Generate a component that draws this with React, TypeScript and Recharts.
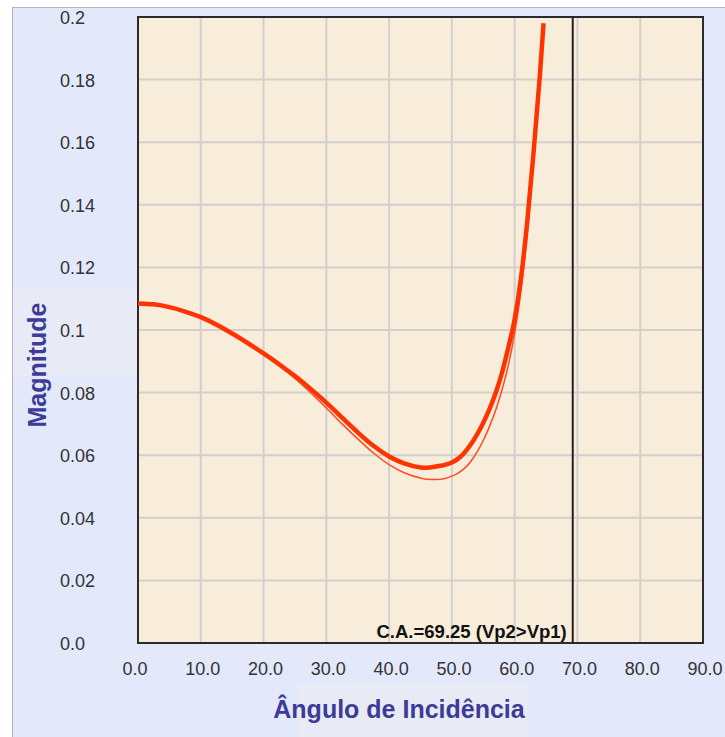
import React from 'react';
import {
  LineChart,
  Line,
  XAxis,
  YAxis,
  CartesianGrid,
  ReferenceLine,
  ReferenceArea,
} from 'recharts';

// angle of incidence (degrees)
const angles = [0, 2.5, 5, 7.5, 10, 15, 20, 22.5, 25, 27.5, 30, 32.5, 35, 37.5, 40, 42.5, 45, 46, 47.5, 50, 51, 52, 53, 54, 55, 56, 57, 58, 59, 60, 61, 62, 63, 64, 64.6];
// magnitude, thick curve
const magA = [0.1085, 0.1082, 0.1073, 0.1059, 0.1041, 0.0989, 0.0925, 0.089, 0.0853, 0.0812, 0.0768, 0.072, 0.0673, 0.063, 0.0596, 0.0573, 0.0561, 0.056, 0.0564, 0.0577, 0.0589, 0.0608, 0.0634, 0.0666, 0.0704, 0.0748, 0.08, 0.0865, 0.0945, 0.1035, 0.1165, 0.1345, 0.1565, 0.181, 0.198];
// magnitude, thin curve
const magB = [0.1085, 0.1082, 0.1073, 0.1059, 0.1041, 0.0989, 0.0923, 0.0886, 0.0845, 0.08, 0.0751, 0.07, 0.0652, 0.0607, 0.057, 0.0543, 0.0527, 0.0523, 0.0522, 0.0533, 0.0543, 0.0558, 0.058, 0.061, 0.0647, 0.0692, 0.0745, 0.081, 0.0888, 0.099, 0.1125, 0.131, 0.154, 0.1795, 0.197];

const xTicks = [0, 10, 20, 30, 40, 50, 60, 70, 80, 90];
const yTicks = [0, 0.02, 0.04, 0.06, 0.08, 0.1, 0.12, 0.14, 0.16, 0.18, 0.2];
const yTickLabels = ['0.0', '0.02', '0.04', '0.06', '0.08', '0.1', '0.12', '0.14', '0.16', '0.18', '0.2'];

const criticalAngle = 69.25;
const criticalLabel = 'C.A.=69.25 (Vp2>Vp1)';

const data = angles.map((a, i) => ({ angle: a, magA: magA[i], magB: magB[i] }));

const FONT = '"Liberation Sans", Arial, sans-serif';
const TITLE_COLOR = '#3b3b98';

const XTick = (props: any) => {
  const { x, y, payload } = props;
  return (
    <text x={x - 15.5} y={y + 32} textAnchor="start" fontSize={18} fill="#333" fontFamily={FONT}>
      {Number(payload.value).toFixed(1)}
    </text>
  );
};

const YTick = (props: any) => {
  const { y, payload } = props;
  const idx = yTicks.findIndex(t => Math.abs(t - payload.value) < 1e-9);
  return (
    <text x={60} y={y + 7} textAnchor="start" fontSize={18} fill="#333" fontFamily={FONT}>
      {idx >= 0 ? yTickLabels[idx] : payload.value}
    </text>
  );
};

const CALabel = (props: any) => {
  const vb = props.viewBox || { x: 573, y: 17, width: 0, height: 626 };
  return (
    <text
      x={vb.x - 6}
      y={vb.y + vb.height - 5}
      textAnchor="end"
      fontSize={18.5}
      fontWeight="bold"
      fill="#111"
      fontFamily={FONT}
    >
      {criticalLabel}
    </text>
  );
};

export default function App() {
  return (
    <div style={{ position: 'absolute', left: 0, top: 0, width: 725, height: 737, background: '#fff', overflow: 'hidden' }}>
      <div
        style={{
          position: 'absolute',
          left: 12,
          top: 7,
          right: 0,
          bottom: 0,
          background: '#e4e8fb',
          borderTop: '1px solid #b3b4bc',
          borderLeft: '1px solid #b3b4bc',
        }}
      />
      {/* faint bands behind the axis titles */}
      <div style={{ position: 'absolute', left: 13, top: 288, width: 125, height: 88, background: '#e8ebf5' }} />
      <div style={{ position: 'absolute', left: 298, top: 683, width: 230, height: 54, background: '#e8ebf5' }} />
      <div style={{ position: 'absolute', left: 0, top: 0 }}>
        <LineChart width={725} height={737} data={data} margin={{ top: 17, right: 22, left: 0, bottom: 0 }}>
          <CartesianGrid
            fill="#f8ecdb"
            stroke="#d2d0cc"
            strokeWidth={2}
            horizontalValues={yTicks}
            verticalValues={xTicks}
          />
          <XAxis
            dataKey="angle"
            type="number"
            domain={[0, 90]}
            ticks={xTicks}
            interval={0}
            tick={<XTick />}
            tickLine={false}
            tickSize={0}
            tickMargin={0}
            axisLine={false}
            height={94}
            allowDataOverflow
          />
          <YAxis
            type="number"
            domain={[0, 0.2]}
            ticks={yTicks}
            interval={0}
            tick={<YTick />}
            tickLine={false}
            tickSize={0}
            tickMargin={0}
            axisLine={false}
            width={138}
            allowDataOverflow
          />
          <Line
            type="monotone"
            dataKey="magB"
            stroke="#ff4a24"
            strokeWidth={1.5}
            dot={false}
            isAnimationActive={false}
          />
          <Line
            type="monotone"
            dataKey="magA"
            stroke="#ff3300"
            strokeWidth={4.5}
            dot={false}
            isAnimationActive={false}
          />
          <ReferenceLine x={criticalAngle} stroke="#222" strokeWidth={2} label={CALabel} />
          <ReferenceArea x1={0} x2={90} y1={0} y2={0.2} fill="none" fillOpacity={0} stroke="#2b2b2b" strokeWidth={2} />
        </LineChart>
      </div>
      <div
        style={{
          position: 'absolute',
          left: 37,
          top: 365,
          transform: 'translate(-50%, -50%) rotate(-90deg)',
          whiteSpace: 'nowrap',
          fontFamily: FONT,
          fontWeight: 'bold',
          fontSize: 25,
          color: TITLE_COLOR,
          lineHeight: 1,
        }}
      >
        Magnitude
      </div>
      <div
        style={{
          position: 'absolute',
          left: 399,
          top: 709,
          transform: 'translate(-50%, -50%)',
          whiteSpace: 'nowrap',
          fontFamily: FONT,
          fontWeight: 'bold',
          fontSize: 25,
          color: TITLE_COLOR,
          lineHeight: 1,
        }}
      >
        Ângulo de Incidência
      </div>
    </div>
  );
}
